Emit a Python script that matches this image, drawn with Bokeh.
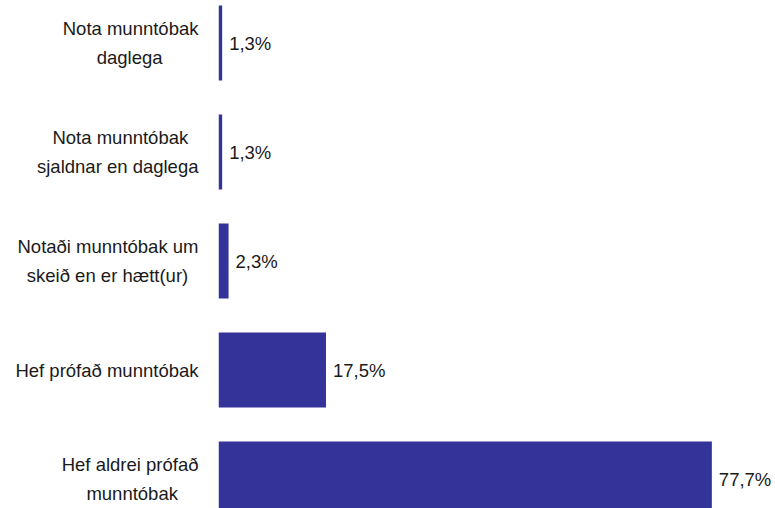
from bokeh.plotting import figure
from bokeh.models import Range1d, FixedTicker, ColumnDataSource
from bokeh.core.properties import value
from bokeh.embed import file_html
from bokeh.resources import INLINE

categories = [
    "Nota munntóbak\ndaglega",
    "Nota munntóbak\nsjaldnar en daglega",
    "Notaði munntóbak um\nskeið en er hætt(ur)",
    "Hef prófað munntóbak",
    "Hef aldrei prófað\nmunntóbak",
]
values = [1.3, 1.3, 2.3, 17.5, 77.7]
value_labels = ["1,3%", "1,3%", "2,3%", "17,5%", "77,7%"]

FONT = "Liberation Sans"
FONT_SIZE = 18.5
BAR = "#333399"
TEXT = "#1a1a1a"

# approximate advance widths (per 1000 em) used to centre the lines of a
# right-aligned multi-line tick label
_W = {"N": 722, "H": 722, "m": 833, "æ": 889, "k": 500, "s": 500, "l": 222,
      "j": 222, "i": 222, "r": 333, "(": 333, ")": 333, "t": 278, "f": 278,
      " ": 278}


def _width(s):
    return sum(_W.get(c, 556) for c in s)


def centre_lines(label):
    lines = label.split("\n")
    mw = max(_width(l) for l in lines)
    out = []
    for l in lines:
        pad = int(round((mw - _width(l)) / 2 / 278))
        out.append(l + "\u00a0" * pad)
    return "\n".join(out)


pos = list(range(len(categories)))
src = ColumnDataSource(dict(y=pos, v=values, lab=value_labels))

p = figure(width=775, height=508, output_backend="svg", toolbar_location=None,
           x_range=Range1d(0.73, 87.63), y_range=Range1d(4.27, -0.39),
           min_border_left=218, min_border_right=0, min_border_top=0, min_border_bottom=0)

p.hbar(y="y", right="v", left=0, height=0.688, source=src, fill_color=BAR, line_color=None)
p.text(x="v", y="y", text="lab", source=src, x_offset=7, text_align="left",
       text_baseline="middle", text_font=value(FONT), text_font_size=f"{FONT_SIZE}px",
       text_color=TEXT)

p.xaxis.visible = False
p.yaxis.ticker = FixedTicker(ticks=pos)
p.yaxis.major_label_overrides = {i: centre_lines(c) for i, c in enumerate(categories)}
p.yaxis.axis_line_color = None
p.yaxis.major_tick_line_color = None
p.yaxis.minor_tick_line_color = None
p.yaxis.major_tick_out = 0
p.yaxis.major_tick_in = 0
p.yaxis.major_label_standoff = 20
p.yaxis.major_label_text_font = FONT
p.yaxis.major_label_text_font_size = f"{FONT_SIZE}px"
p.yaxis.major_label_text_color = TEXT
p.yaxis.major_label_text_line_height = 1.36
p.grid.visible = False
p.outline_line_color = None

open("out.html", "w").write(file_html(p, INLINE))
